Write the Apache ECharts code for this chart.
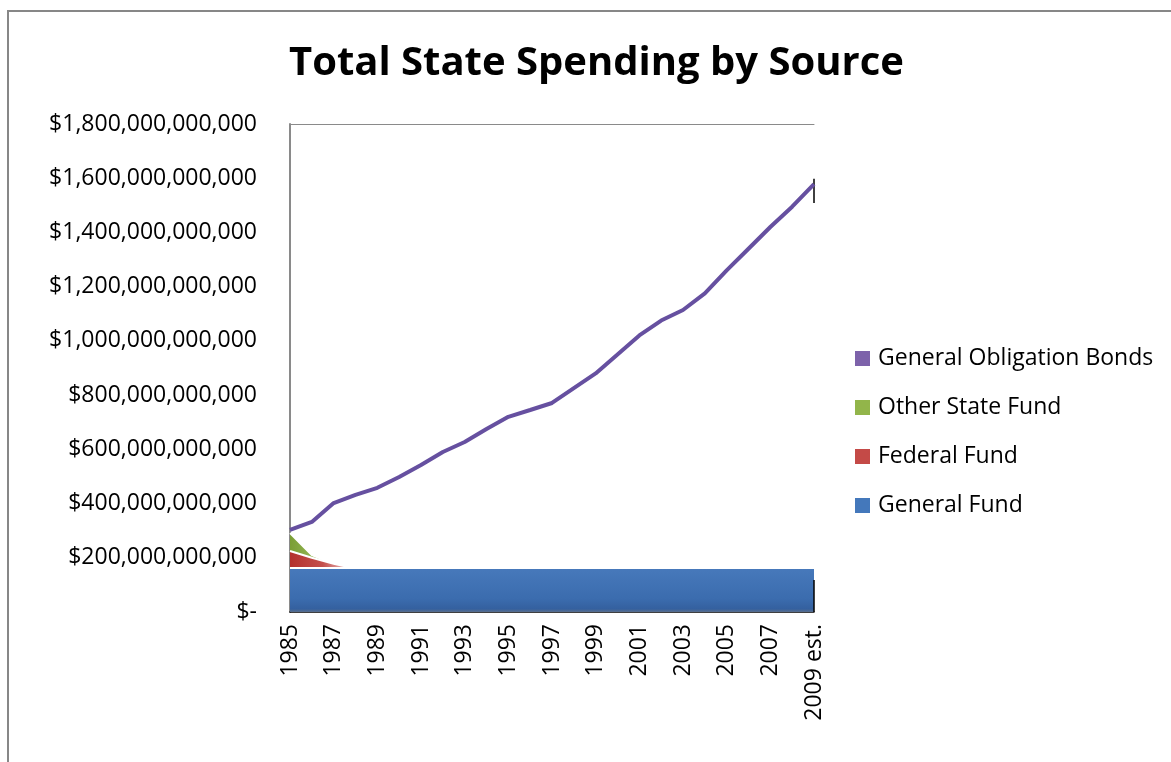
<!DOCTYPE html>
<html>
<head>
<meta charset="utf-8">
<script src="https://cdn.jsdelivr.net/npm/echarts@6/dist/echarts.min.js"></script>
<style>
  html, body { margin: 0; padding: 0; background: #fff; overflow: hidden; }
  #frame { position: absolute; left: 7px; top: 10px; width: 1200px; height: 800px;
           border-left: 2px solid #878787; border-top: 2px solid #878787; }
  #chart { position: absolute; left: 0; top: 0; width: 1171px; height: 762px; }
</style>
</head>
<body>
<div id="frame"></div>
<div id="chart"></div>
<script>
// Fiscal years on the category axis
const years = ['1985', '1986', '1987', '1988', '1989', '1990', '1991', '1992', '1993',
  '1994', '1995', '1996', '1997', '1998', '1999', '2000', '2001', '2002', '2003',
  '2004', '2005', '2006', '2007', '2008', '2009 est.'];

// Spending by source, in billions of dollars
const generalObligationBonds = [303, 332, 402, 432, 458, 498, 542, 590, 627, 675, 720, 745,
  771, 826, 880, 950, 1020, 1075, 1114, 1175, 1260, 1340, 1420, 1495, 1578];
const otherStateFund = [291, 210, 178, null, null, null, null, null, null, null, null, null,
  null, null, null, null, null, null, null, null, null, null, null, null, null];
const federalFund = [225, 200, 178, 160, null, null, null, null, null, null, null, null,
  null, null, null, null, null, null, null, null, null, null, null, null, null];
const generalFund = [162, 162, 162, 162, 162, 162, 162, 162, 162, 162, 162, 162,
  162, 162, 162, 162, 162, 162, 162, 162, 162, 162, 162, 162, 162];

// Value axis ticks (billions)
const yMax = 1800;
const yStep = 200;

const FONT = 'Open Sans';

function dollars(v) {
  if (v === 0) return '$-';
  return '$' + (v * 1e9).toLocaleString('en-US');
}

const chart = echarts.init(document.getElementById('chart'), null, { renderer: 'canvas' });

const G = echarts.graphic.LinearGradient;
const lastYear = years[years.length - 1];

chart.setOption({
  backgroundColor: 'transparent',
  animation: false,
  title: {
    text: 'Total State Spending by Source',
    left: 289,
    top: 44,
    padding: 0,
    textStyle: { fontFamily: FONT, fontWeight: 'bold', fontSize: 40, color: '#000' }
  },
  legend: {
    orient: 'vertical',
    left: 855,
    top: 347,
    padding: 0,
    icon: 'rect',
    itemWidth: 15,
    itemHeight: 15,
    itemGap: 26,
    textStyle: { fontFamily: FONT, fontSize: 23, color: '#000', padding: [0, 0, 0, 3] },
    data: [
      { name: 'General Obligation Bonds', itemStyle: { color: '#7d62aa' } },
      { name: 'Other State Fund', itemStyle: { color: '#92b54a' } },
      { name: 'Federal Fund', itemStyle: { color: '#c44a47' } },
      { name: 'General Fund', itemStyle: { color: '#4478bb' } }
    ]
  },
  grid: { left: 290, right: 357, top: 124, bottom: 150, containLabel: false },
  xAxis: [
    {
      type: 'category',
      data: years,
      boundaryGap: false,
      axisLine: { show: true, lineStyle: { color: '#000', width: 1.5 } },
      axisTick: { show: false },
      axisLabel: {
        rotate: 90, interval: 1, margin: 12,
        fontFamily: FONT, fontSize: 23, color: '#000'
      },
      splitLine: { show: false }
    },
    {
      type: 'category',
      data: years,
      position: 'top',
      boundaryGap: false,
      axisLine: { show: true, lineStyle: { color: '#8a8a8a', width: 1 } },
      axisTick: { show: false },
      axisLabel: { show: false },
      splitLine: { show: false }
    }
  ],
  yAxis: {
    type: 'value',
    min: 0,
    max: yMax,
    interval: yStep,
    axisLine: { show: true, lineStyle: { color: '#8a8a8a', width: 2 } },
    axisTick: { show: false },
    splitLine: { show: false },
    axisLabel: {
      margin: 33, formatter: dollars,
      fontFamily: FONT, fontSize: 23, color: '#000'
    }
  },
  series: [
    {
      name: 'Other State Fund',
      type: 'line',
      data: otherStateFund,
      z: 2,
      showSymbol: false,
      symbol: 'none',
      lineStyle: { color: '#fff', width: 2 },
      itemStyle: { color: '#92b54a' },
      areaStyle: {
        opacity: 1,
        color: new G(0, 0, 1, 0, [
          { offset: 0, color: '#7a9e35' },
          { offset: 0.55, color: '#93b553' },
          { offset: 1, color: '#e3edce' }
        ])
      }
    },
    {
      name: 'Federal Fund',
      type: 'line',
      data: federalFund,
      z: 3,
      showSymbol: false,
      symbol: 'none',
      lineStyle: { color: '#fff', width: 2 },
      itemStyle: { color: '#c44a47' },
      areaStyle: {
        opacity: 1,
        color: new G(0, 0, 1, 0, [
          { offset: 0, color: '#b3302d' },
          { offset: 0.5, color: '#c4504d' },
          { offset: 1, color: '#f5dcdb' }
        ])
      }
    },
    {
      name: 'General Fund',
      type: 'line',
      data: generalFund,
      z: 4,
      showSymbol: false,
      symbol: 'none',
      lineStyle: { color: '#fff', width: 2 },
      itemStyle: { color: '#4478bb' },
      areaStyle: {
        opacity: 1,
        color: new G(0, 0, 0, 1, [
          { offset: 0, color: '#4779bb' },
          { offset: 0.7, color: '#3b6cae' },
          { offset: 0.93, color: '#34609f' },
          { offset: 1, color: '#5a6f8c' }
        ])
      },
      // dark side edge of the slab at the last year
      markLine: {
        silent: true,
        symbol: 'none',
        label: { show: false },
        lineStyle: { color: '#000', width: 1.5, type: 'solid' },
        data: [[{ coord: [lastYear, 0] }, { coord: [lastYear, 118] }]]
      }
    },
    {
      name: 'General Obligation Bonds',
      type: 'line',
      data: generalObligationBonds,
      z: 5,
      showSymbol: false,
      symbol: 'none',
      lineStyle: { color: '#6650a0', width: 4 },
      itemStyle: { color: '#7d62aa' },
      markLine: {
        silent: true,
        symbol: 'none',
        label: { show: false },
        lineStyle: { color: '#000', width: 1.5, type: 'solid' },
        data: [[{ coord: [lastYear, 1509] }, { coord: [lastYear, 1598] }]]
      }
    }
  ]
});
</script>
</body>
</html>
